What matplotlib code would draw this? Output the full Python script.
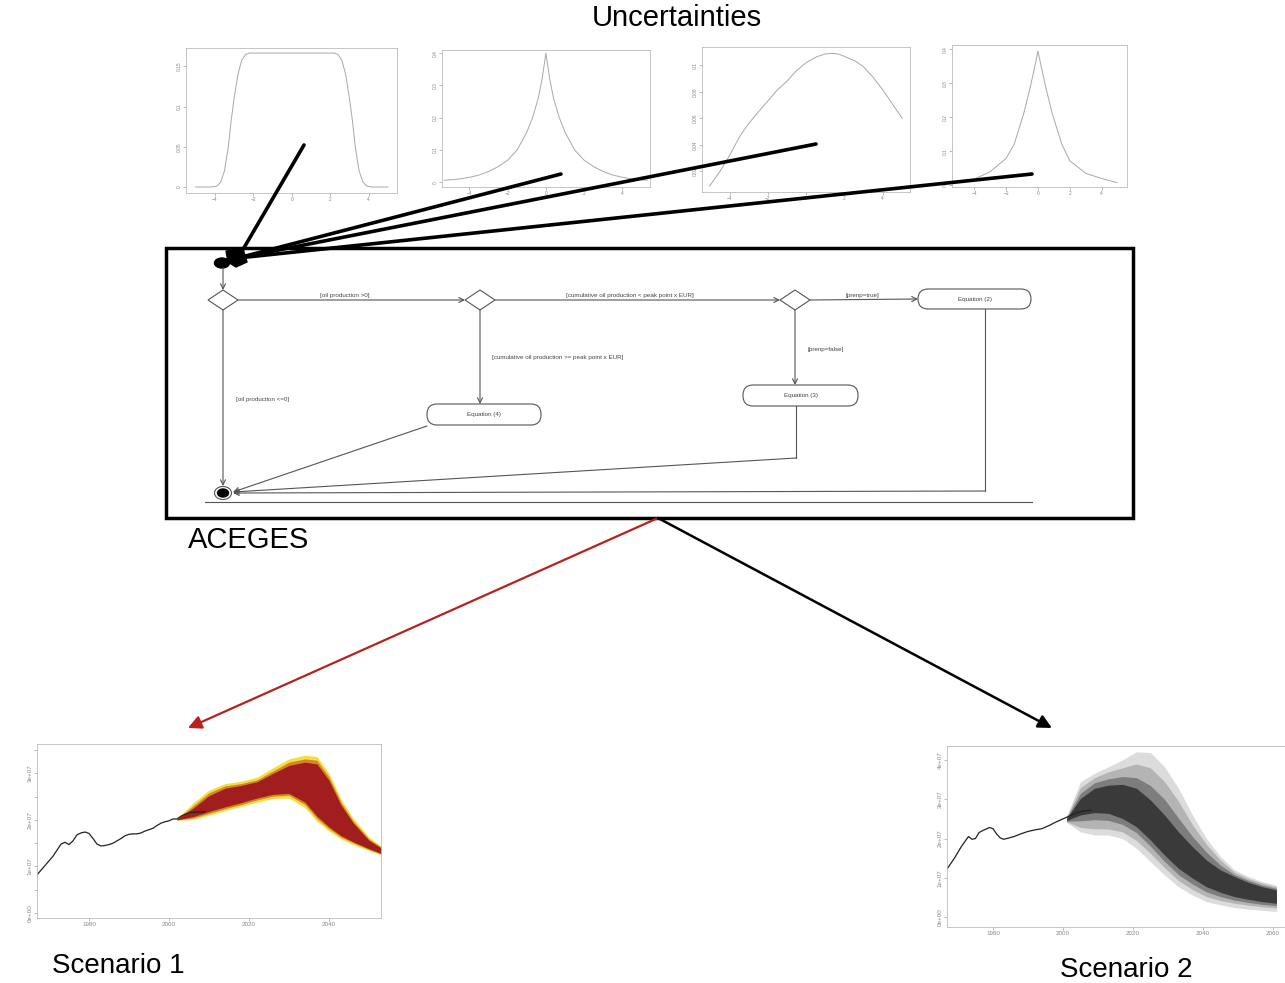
import matplotlib
matplotlib.use('Agg')
import matplotlib.pyplot as plt
from matplotlib.patches import Rectangle, Polygon, Ellipse, FancyBboxPatch

plt.rcParams['font.family'] = ['Liberation Sans', 'DejaVu Sans']

W, H = 1285, 983

# --- uncertainty densities ---
u1_x = [-5.0, -4.2, -3.9, -3.7, -3.5, -3.3, -3.15, -3.0, -2.8, -2.6, -2.4, -2.2, -1.5, 0,
        1.5, 2.2, 2.4, 2.6, 2.8, 3.0, 3.15, 3.3, 3.5, 3.7, 3.9, 4.2, 5.0]
u1_y = [0, 0, 0.001, 0.006, 0.02, 0.05, 0.083, 0.11, 0.14, 0.158, 0.165, 0.1667, 0.1667, 0.1667,
        0.1667, 0.1667, 0.165, 0.158, 0.14, 0.11, 0.083, 0.05, 0.02, 0.006, 0.001, 0, 0]

u2_x = [-5.3, -4.5, -4, -3.5, -3, -2.5, -2, -1.5, -1, -0.7, -0.4, -0.2, 0,
        0.2, 0.4, 0.7, 1, 1.5, 2, 2.5, 3, 3.5, 4, 4.5, 5.3]
u2_y = [0.006, 0.01, 0.015, 0.022, 0.033, 0.048, 0.068, 0.1, 0.155, 0.2, 0.26, 0.32, 0.4,
        0.32, 0.26, 0.2, 0.155, 0.1, 0.068, 0.048, 0.033, 0.022, 0.015, 0.01, 0.006]

u3_x = [-5.04, -4.5, -4.0, -3.44, -3.0, -2.49, -2.0, -1.53, -1.0, -0.5, 0, 0.56, 1.0, 1.34,
        1.7, 2.12, 2.6, 2.99, 3.5, 4.03, 4.5, 5.02]
u3_y = [0.009, 0.02, 0.032, 0.047, 0.056, 0.065, 0.073, 0.081, 0.088, 0.096, 0.102, 0.1065,
        0.1085, 0.109, 0.1085, 0.106, 0.103, 0.099, 0.091, 0.081, 0.071, 0.06]

u4_x = [-4.6, -4, -3, -2, -1.5, -0.9, -0.48, -0.2, 0, 0.2, 0.48, 0.9, 1.5, 2, 3, 4, 4.95]
u4_y = [0.012, 0.018, 0.04, 0.079, 0.12, 0.21, 0.29, 0.35, 0.395, 0.35, 0.29, 0.21, 0.12,
        0.072, 0.035, 0.02, 0.008]

# --- scenario 1: history + fan (units of 1e7) ---
hist1_years = list(range(1967, 2010))
hist1_vals = [0.82, 0.92, 1.02, 1.12, 1.22, 1.35, 1.48, 1.52, 1.47, 1.55, 1.68, 1.72, 1.74, 1.71,
              1.6, 1.48, 1.44, 1.45, 1.47, 1.5, 1.55, 1.6, 1.66, 1.69, 1.7, 1.7, 1.72, 1.76, 1.79,
              1.82, 1.88, 1.93, 1.96, 1.98, 2.02, 2.02, 2.08, 2.12, 2.15, 2.16, 2.17, 2.17, 2.17]
fan1_years = [2002, 2006, 2010, 2014, 2018, 2022, 2026, 2030, 2034, 2037, 2040, 2043, 2046, 2050, 2053]
fan1_outer_hi = [2.03, 2.36, 2.64, 2.78, 2.83, 2.92, 3.12, 3.31, 3.39, 3.36, 3.0, 2.45, 2.04, 1.63, 1.44]
fan1_outer_lo = [1.99, 2.01, 2.1, 2.2, 2.29, 2.38, 2.46, 2.47, 2.26, 1.97, 1.76, 1.59, 1.47, 1.34, 1.25]
fan1_mid_hi = [2.02, 2.3, 2.58, 2.73, 2.78, 2.86, 3.05, 3.24, 3.31, 3.28, 2.92, 2.38, 1.98, 1.59, 1.415]
fan1_mid_lo = [2.0, 2.04, 2.14, 2.24, 2.33, 2.43, 2.51, 2.53, 2.33, 2.03, 1.81, 1.63, 1.51, 1.365, 1.27]
fan1_inner_hi = [2.02, 2.25, 2.52, 2.68, 2.74, 2.82, 3.0, 3.17, 3.24, 3.2, 2.85, 2.32, 1.94, 1.56, 1.4]
fan1_inner_lo = [2.0, 2.07, 2.18, 2.28, 2.37, 2.47, 2.55, 2.57, 2.38, 2.08, 1.85, 1.66, 1.53, 1.38, 1.28]

# --- scenario 2: history + fan (units of 1e7) ---
hist2_years = [1967, 1969, 1971, 1973, 1974, 1975, 1976, 1977, 1979, 1980, 1981, 1982, 1983, 1984,
               1986, 1988, 1990, 1992, 1994, 1996, 1998, 2000, 2002, 2004, 2006, 2008]
hist2_vals = [1.24, 1.5, 1.8, 2.05, 1.98, 2.0, 2.15, 2.2, 2.28, 2.25, 2.12, 2.02, 1.98, 2.0,
              2.05, 2.12, 2.18, 2.22, 2.25, 2.33, 2.42, 2.5, 2.58, 2.66, 2.7, 2.72]
fan2_years = [2001, 2005, 2009, 2013, 2017, 2021, 2025, 2029, 2033, 2037, 2041, 2045, 2049, 2053, 2057, 2061]
fan2_b1_hi = [2.56, 3.45, 3.66, 3.83, 4.0, 4.21, 4.19, 3.83, 3.28, 2.6, 2.0, 1.54, 1.2, 1.03, 0.9, 0.81]
fan2_b1_lo = [2.41, 2.17, 2.09, 2.09, 2.0, 1.75, 1.41, 1.07, 0.77, 0.56, 0.39, 0.31, 0.24, 0.2, 0.17, 0.14]
fan2_b2_hi = [2.54, 3.3, 3.55, 3.7, 3.8, 3.9, 3.8, 3.45, 2.95, 2.35, 1.85, 1.45, 1.14, 0.98, 0.86, 0.77]
fan2_b2_lo = [2.43, 2.28, 2.25, 2.24, 2.17, 1.95, 1.62, 1.26, 0.93, 0.7, 0.52, 0.42, 0.35, 0.3, 0.26, 0.23]
fan2_b3_hi = [2.52, 3.15, 3.42, 3.52, 3.58, 3.55, 3.35, 3.0, 2.52, 2.05, 1.65, 1.32, 1.08, 0.93, 0.81, 0.73]
fan2_b3_lo = [2.44, 2.45, 2.48, 2.46, 2.36, 2.15, 1.8, 1.42, 1.08, 0.84, 0.64, 0.52, 0.43, 0.37, 0.32, 0.29]
fan2_b4_hi = [2.51, 3.02, 3.28, 3.36, 3.38, 3.28, 2.98, 2.6, 2.17, 1.79, 1.45, 1.2, 1.03, 0.88, 0.77, 0.69]
fan2_b4_lo = [2.46, 2.6, 2.66, 2.64, 2.51, 2.3, 1.96, 1.58, 1.24, 0.99, 0.77, 0.63, 0.52, 0.45, 0.39, 0.35]

fig = plt.figure(figsize=(W / 100, H / 100), dpi=100)


def px_axes(x0, y0, x1, y1, z=1):
    return fig.add_axes([x0 / W, 1 - y1 / H, (x1 - x0) / W, (y1 - y0) / H], zorder=z)


def r_style(a, lab=3.5):
    a.tick_params(labelsize=lab, length=2, width=0.4, colors='#888888', pad=1)
    for lab_ in a.get_yticklabels():
        lab_.set_rotation(90)
        lab_.set_va('center')
    for s in a.spines.values():
        s.set_color('#bbbbbb')
        s.set_linewidth(0.6)


def density_panel(box, x, y, xlim, ylim, yticks):
    a = px_axes(*box)
    a.plot(x, y, color='#a8a8a8', lw=0.7)
    a.set_xlim(xlim)
    a.set_ylim(ylim)
    a.set_xticks([-4, -2, 0, 2, 4])
    a.set_yticks(yticks)
    a.set_yticklabels(['%g' % t for t in yticks])
    r_style(a)


density_panel((186, 48, 397, 193), u1_x, u1_y, (-5.5, 5.47), (-0.0075, 0.173), [0, 0.05, 0.1, 0.15])
density_panel((442, 50, 650, 187), u2_x, u2_y, (-5.43, 5.44), (-0.015, 0.41), [0, 0.1, 0.2, 0.3, 0.4])
density_panel((702, 47, 910, 192), u3_x, u3_y, (-5.44, 5.43), (0.0044, 0.1138), [0.02, 0.04, 0.06, 0.08, 0.1])
density_panel((952, 45, 1127, 187), u4_x, u4_y, (-5.39, 5.58), (-0.005, 0.413), [0, 0.1, 0.2, 0.3, 0.4])

# scenario 1
s1 = px_axes(37, 744, 381, 918)
e7 = 1e7
s1.fill_between(fan1_years, [v * e7 for v in fan1_outer_lo], [v * e7 for v in fan1_outer_hi],
                color='#f1df3c', lw=0)
s1.fill_between(fan1_years, [v * e7 for v in fan1_mid_lo], [v * e7 for v in fan1_mid_hi],
                color='#d4852a', lw=0)
s1.fill_between(fan1_years, [v * e7 for v in fan1_inner_lo], [v * e7 for v in fan1_inner_hi],
                color='#a21e1e', lw=0)
s1.plot(hist1_years, [v * e7 for v in hist1_vals], color='#222222', lw=0.9)
s1.set_xlim(1967, 2053)
s1.set_ylim(-0.107e7, 3.63e7)
s1.set_xticks([1980, 2000, 2020, 2040])
s1_ticks = [0, 0.5e7, 1e7, 1.5e7, 2e7, 2.5e7, 3e7, 3.5e7]
s1.set_yticks(s1_ticks)
s1.set_yticklabels(['0e+00', '', '1e+07', '', '2e+07', '', '3e+07', ''])
r_style(s1, 4.5)

# scenario 2
s2 = px_axes(947, 746, 1295, 927)
grey_bands = [(fan2_b1_lo, fan2_b1_hi, '#dcdcdc'), (fan2_b2_lo, fan2_b2_hi, '#b4b4b4'),
              (fan2_b3_lo, fan2_b3_hi, '#7d7d7d'), (fan2_b4_lo, fan2_b4_hi, '#3a3a3a')]
for lo, hi, c in grey_bands:
    s2.fill_between(fan2_years, [v * e7 for v in lo], [v * e7 for v in hi], color=c, lw=0)
s2.plot(hist2_years, [v * e7 for v in hist2_vals], color='#222222', lw=0.9)
s2.set_xlim(1966.86, 2066.3)
s2.set_ylim(-0.255e7, 4.357e7)
s2.set_xticks([1980, 2000, 2020, 2040, 2060])
s2.set_yticks([0, 1e7, 2e7, 3e7, 4e7])
s2.set_yticklabels(['0e+00', '1e+07', '2e+07', '3e+07', '4e+07'])
r_style(s2, 4.5)

# --- overlay in pixel coordinates: flowchart, arrows, titles ---
ax = fig.add_axes([0, 0, 1, 1], zorder=5)
ax.set_xlim(0, W)
ax.set_ylim(H, 0)
ax.axis('off')
ax.patch.set_visible(False)

gc = '#555555'
ax.add_patch(Rectangle((166, 248), 967, 270, fill=False, ec='black', lw=2.5))

# thick lines from the uncertainty panels to the start node
for x0, y0 in [(304, 145), (561, 174), (816, 144), (1032, 174)]:
    ax.plot([x0, 238], [y0, 258], color='black', lw=2.6, solid_capstyle='round')
ax.add_patch(Polygon([(226, 251), (243, 249), (247, 262), (236, 267), (228, 262)],
                     closed=True, color='black'))
ax.add_patch(Ellipse((222, 263), 15, 10, color='black'))


def arrow(p0, p1):
    ax.annotate('', xy=p1, xytext=p0,
                arrowprops=dict(arrowstyle='->', color=gc, lw=0.8, mutation_scale=9,
                                shrinkA=0, shrinkB=0))


def diamond(cx, cy):
    ax.add_patch(Polygon([(cx - 15, cy), (cx, cy - 10), (cx + 15, cy), (cx, cy + 10)],
                         closed=True, fill=False, ec=gc, lw=0.8))


def eq_box(x0, y0, x1, y1, label):
    ax.add_patch(FancyBboxPatch((x0, y0), x1 - x0, y1 - y0,
                                boxstyle='round,pad=0,rounding_size=10',
                                fill=False, ec=gc, lw=0.8))
    ax.text((x0 + x1) / 2, (y0 + y1) / 2, label, fontsize=4.5, color='#444444',
            ha='center', va='center')


diamond(223, 300)
diamond(480, 300)
diamond(795, 300)
eq_box(918, 289, 1031, 309, 'Equation (2)')
eq_box(743, 385, 858, 406, 'Equation (3)')
eq_box(427, 404, 541, 425, 'Equation (4)')

arrow((223, 268), (223, 290))
arrow((238, 300), (465, 300))
arrow((495, 300), (780, 300))
arrow((810, 300), (918, 299))
arrow((480, 310), (480, 404))
arrow((795, 310), (795, 385))
arrow((223, 310), (223, 486))
arrow((427, 426), (233, 492))
ax.plot([796, 796], [406, 458], color=gc, lw=0.8)
arrow((796, 458), (233, 492))
ax.plot([985, 985], [309, 491], color=gc, lw=0.8)
arrow((985, 491), (233, 493))
ax.plot([205, 1032], [502, 502], color=gc, lw=0.8)

ax.add_patch(Ellipse((223, 493), 17, 13, fc='white', ec=gc, lw=0.8, zorder=6))
ax.add_patch(Ellipse((223, 493), 11, 8, color='black', zorder=7))

lab = dict(fontsize=4.5, color='#444444')
ax.text(345, 298, '[oil production >0]', ha='center', va='bottom', **lab)
ax.text(630, 298, '[cumulative oil production < peak point x EUR]', ha='center', va='bottom', **lab)
ax.text(862, 298, '[prenp=true]', ha='center', va='bottom', **lab)
ax.text(492, 358, '[cumulative oil production >= peak point x EUR]', ha='left', va='center', **lab)
ax.text(808, 349, '[prenp=false]', ha='left', va='center', **lab)
ax.text(236, 400, '[oil production <=0]', ha='left', va='center', **lab)

# arrows to the two scenarios
ax.annotate('', xy=(188, 728), xytext=(658, 518),
            arrowprops=dict(arrowstyle='-|>', color='#b5231f', lw=1.6, mutation_scale=20,
                            shrinkA=0, shrinkB=0))
ax.annotate('', xy=(1052, 728), xytext=(658, 518),
            arrowprops=dict(arrowstyle='-|>', color='black', lw=1.8, mutation_scale=20,
                            shrinkA=0, shrinkB=0))

ax.text(677, 18, 'Uncertainties', fontsize=21, ha='center', va='center')
ax.text(188, 540, 'ACEGES', fontsize=21, ha='left', va='center')
ax.text(52, 966, 'Scenario 1', fontsize=20, ha='left', va='center')
ax.text(1060, 970, 'Scenario 2', fontsize=20, ha='left', va='center')

fig.savefig('out.png', dpi=100)
